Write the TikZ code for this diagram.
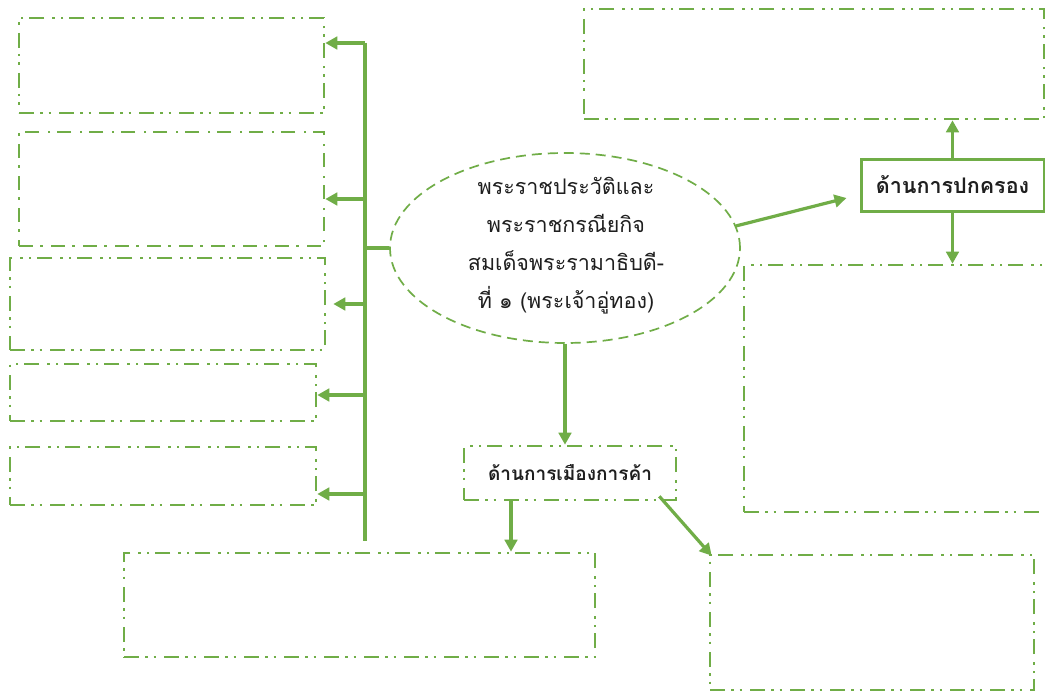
\documentclass[tikz,border=0pt]{standalone}
\usepackage{fontspec}
\newfontfamily\thaifont[Script=Thai]{Loma}
\usetikzlibrary{arrows.meta,shapes.geometric}
\definecolor{ogreen}{HTML}{70AD47}
\definecolor{txt}{HTML}{1F1F1F}
\tikzset{
  ddbox/.style={draw=ogreen, line width=2.6pt, rectangle, inner sep=0pt,
    dash pattern=on 15pt off 6pt on 2.5pt off 6pt on 2.5pt off 8pt},
  dbox/.style={draw=ogreen, line width=2.6pt, rectangle, inner sep=0pt,
    dash pattern=on 14pt off 7pt on 2.5pt off 8.5pt},
  conn/.style={draw=ogreen, line width=3.2pt},
  arr/.style={conn, -{Triangle[length=12pt,width=12.5pt]}},
  lbl/.style={font=\thaifont\bfseries\fontsize{19}{23}\selectfont, text=txt}
}
\begin{document}
\begin{tikzpicture}[x=1pt,y=-1pt]
\clip (0,0) rectangle (1045,693);
\fill[white] (0,0) rectangle (1045,693);
% left boxes
\node[ddbox, minimum width=305pt, minimum height=95pt] (L1) at (171.5,65.5) {};
\node[dbox, minimum width=305pt, minimum height=114pt] (L2) at (171.5,189) {};
\node[ddbox, minimum width=315pt, minimum height=92pt] (L3) at (167.5,304) {};
\node[ddbox, minimum width=306pt, minimum height=57pt] (L4) at (163,392.5) {};
\node[ddbox, minimum width=306pt, minimum height=58pt] (L5) at (163,476) {};
% bottom boxes
\node[ddbox, minimum width=471pt, minimum height=104pt] (B1) at (359.5,605) {};
\node[ddbox, minimum width=324pt, minimum height=135pt] (B2) at (872,622.5) {};
% right boxes
\node[ddbox, minimum width=460pt, minimum height=110pt] (T1) at (814,64) {};
\node[ddbox, minimum width=316pt, minimum height=247pt] (R1) at (902,388.5) {};
% center ellipse
\node[ellipse, draw=ogreen, line width=1.7pt, dash pattern=on 10pt off 6pt,
  minimum width=350pt, minimum height=190pt, inner sep=0pt] (E) at (565,248) {};
\node[font=\thaifont\fontsize{21.5}{38}\selectfont, text=txt, align=center] (Et) at (566,246)
  {พระราชประวัติและ\\พระราชกรณียกิจ\\สมเด็จพระรามาธิบดี-\\ที่ ๑ (พระเจ้าอู่ทอง)};
% labelled boxes
\node[draw=ogreen, line width=3pt, minimum width=183pt, minimum height=52pt, lbl,
  font=\thaifont\bfseries\fontsize{21.5}{25}\selectfont] (G) at (952.5,185) {ด้านการปกครอง};
\node[ddbox, minimum width=212pt, minimum height=54pt, lbl] (T) at (570,473) {ด้านการเมืองการค้า};
% trunk on the left
\coordinate (tTop) at (365,43);
\coordinate (tBot) at (365,541);
\coordinate (a2) at (365,199);
\coordinate (a3) at (365,304);
\coordinate (a4) at (365,395);
\coordinate (a5) at (365,494);
\draw[conn] (E.west) -- (E.west -| tTop);
\draw[conn] (tTop) -- (tBot);
\draw[arr] (tTop) -- (L1.east |- tTop);
\draw[arr] (a2) -- (L2.east |- a2);
\draw[arr, shorten >=7pt] (a3) -- (L3.east |- a3);
\draw[arr] (a4) -- (L4.east |- a4);
\draw[arr] (a5) -- (L5.east |- a5);
% center connectors
\draw[arr] (E.south) -- (E.south |- T.north);
\coordinate (tb) at (511,500);
\draw[arr] (tb) -- (tb |- B1.north);
\draw[arr] ([xshift=-18pt,yshift=5pt]T.south east) -- ([xshift=3pt,yshift=-2pt]B2.north west);
\draw[arr] ([xshift=-5pt,yshift=22pt]E.east) -- ([xshift=-13pt,yshift=-13pt]G.west);
\draw[arr] (G.north) -- (G.north |- T1.south);
\draw[arr] (G.south) -- (G.south |- R1.north);
\end{tikzpicture}
\end{document}
